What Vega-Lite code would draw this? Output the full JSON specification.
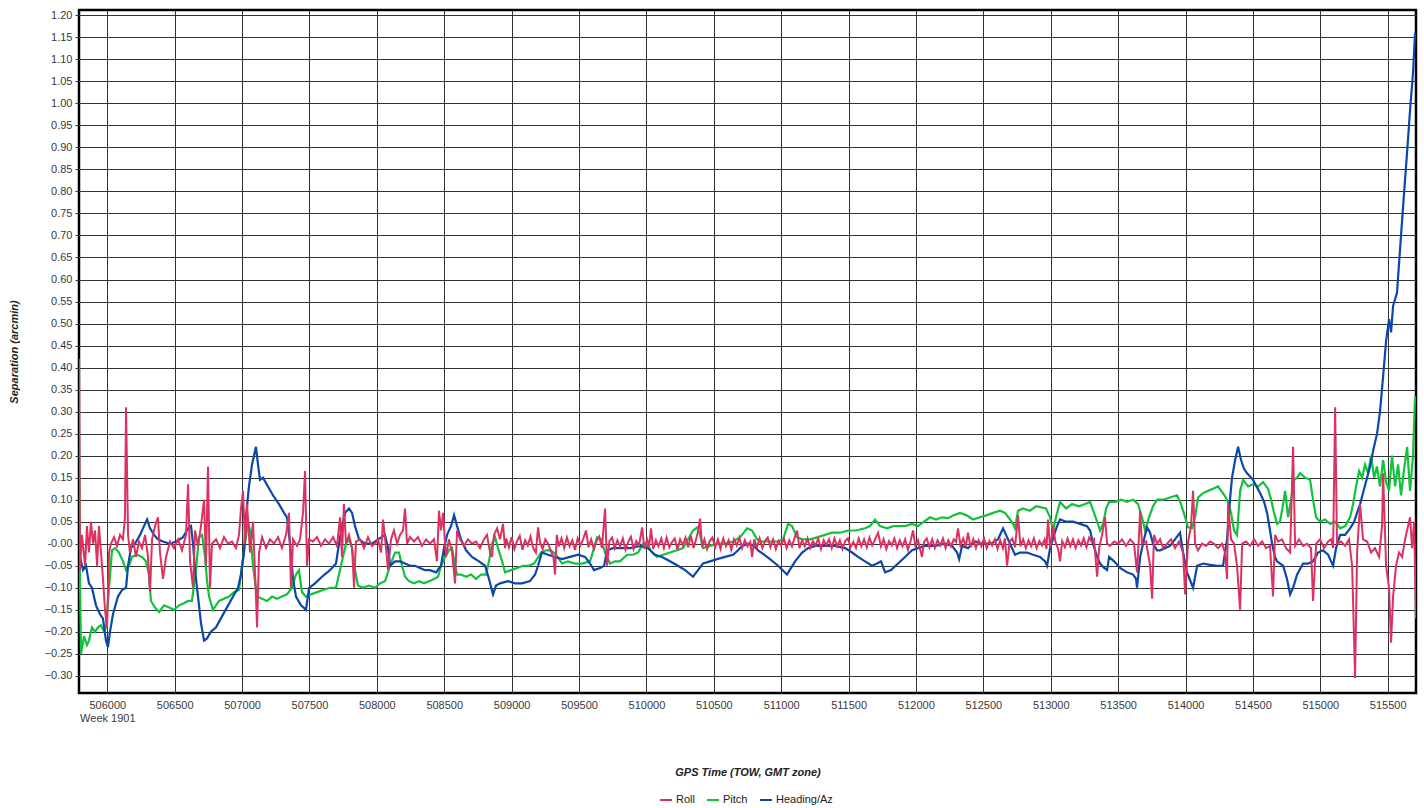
{
"$schema":"https://vega.github.io/schema/vega-lite/v6.json",
"width":1337,"height":683,
"autosize":{"type":"none"},
"padding":{"left":79,"top":10,"right":8,"bottom":115},
"background":"white",
"config":{
"font":"Liberation Sans",
"view":{"stroke":"#000","strokeWidth":2.5},
"axis":{"labelFont":"Liberation Sans","titleFont":"Liberation Sans","labelFontSize":11,"labelColor":"#3a3a3a","titleFontSize":11,"titleFontStyle":"italic","titleFontWeight":"bold","titleColor":"#222","domain":false,"gridColor":"#333","gridWidth":1,"gridOpacity":1},
"legend":{"labelFont":"Liberation Sans","labelFontSize":11,"labelColor":"#222"}
},
"datasets":{
"pitch":[
{"t":505790,"v":0.24},{"t":505797,"v":-0.08},{"t":505805,"v":-0.25},{"t":505827,"v":-0.21},{"t":505849,"v":-0.23},{"t":505864,"v":-0.22},{"t":505886,"v":-0.19},{"t":505909,"v":-0.2},{"t":505931,"v":-0.19},{"t":505953,"v":-0.185},{"t":505976,"v":-0.2},{"t":505990,"v":-0.19},{"t":506013,"v":-0.1},{"t":506035,"v":-0.015},{"t":506057,"v":-0.01},{"t":506087,"v":-0.02},{"t":506116,"v":-0.04},{"t":506139,"v":-0.06},{"t":506161,"v":-0.05},{"t":506183,"v":-0.03},{"t":506220,"v":-0.025},{"t":506257,"v":-0.03},{"t":506287,"v":-0.04},{"t":506309,"v":-0.07},{"t":506324,"v":-0.13},{"t":506354,"v":-0.145},{"t":506384,"v":-0.155},{"t":506421,"v":-0.14},{"t":506458,"v":-0.145},{"t":506495,"v":-0.15},{"t":506532,"v":-0.14},{"t":506569,"v":-0.135},{"t":506599,"v":-0.13},{"t":506628,"v":-0.13},{"t":506658,"v":-0.06},{"t":506680,"v":0.015},{"t":506703,"v":0.02},{"t":506725,"v":-0.03},{"t":506740,"v":-0.085},{"t":506755,"v":-0.12},{"t":506784,"v":-0.15},{"t":506829,"v":-0.13},{"t":506866,"v":-0.125},{"t":506903,"v":-0.12},{"t":506940,"v":-0.11},{"t":506977,"v":-0.105},{"t":506999,"v":-0.05},{"t":507022,"v":0.0},{"t":507044,"v":0.05},{"t":507059,"v":0.03},{"t":507081,"v":-0.05},{"t":507111,"v":-0.12},{"t":507148,"v":-0.125},{"t":507185,"v":-0.13},{"t":507222,"v":-0.12},{"t":507259,"v":-0.125},{"t":507296,"v":-0.12},{"t":507333,"v":-0.115},{"t":507370,"v":-0.1},{"t":507400,"v":-0.07},{"t":507422,"v":-0.06},{"t":507445,"v":-0.11},{"t":507474,"v":-0.12},{"t":507511,"v":-0.115},{"t":507556,"v":-0.11},{"t":507600,"v":-0.105},{"t":507652,"v":-0.1},{"t":507697,"v":-0.1},{"t":507719,"v":-0.07},{"t":507741,"v":-0.04},{"t":507771,"v":0.0},{"t":507793,"v":0.01},{"t":507816,"v":-0.01},{"t":507838,"v":-0.06},{"t":507860,"v":-0.095},{"t":507897,"v":-0.1},{"t":507942,"v":-0.095},{"t":507986,"v":-0.1},{"t":508023,"v":-0.09},{"t":508061,"v":-0.085},{"t":508098,"v":-0.05},{"t":508135,"v":-0.02},{"t":508164,"v":-0.02},{"t":508187,"v":-0.05},{"t":508209,"v":-0.075},{"t":508239,"v":-0.085},{"t":508276,"v":-0.09},{"t":508313,"v":-0.085},{"t":508350,"v":-0.09},{"t":508387,"v":-0.085},{"t":508424,"v":-0.08},{"t":508454,"v":-0.075},{"t":508476,"v":-0.05},{"t":508506,"v":-0.03},{"t":508535,"v":-0.015},{"t":508558,"v":-0.01},{"t":508580,"v":-0.05},{"t":508595,"v":-0.07},{"t":508624,"v":-0.07},{"t":508662,"v":-0.075},{"t":508699,"v":-0.07},{"t":508736,"v":-0.08},{"t":508773,"v":-0.07},{"t":508810,"v":-0.07},{"t":508832,"v":-0.04},{"t":508854,"v":0.0},{"t":508877,"v":0.015},{"t":508899,"v":-0.01},{"t":508929,"v":-0.04},{"t":508951,"v":-0.065},{"t":508995,"v":-0.06},{"t":509040,"v":-0.055},{"t":509084,"v":-0.05},{"t":509129,"v":-0.05},{"t":509166,"v":-0.045},{"t":509188,"v":-0.035},{"t":509218,"v":-0.02},{"t":509255,"v":-0.015},{"t":509292,"v":-0.015},{"t":509329,"v":-0.025},{"t":509374,"v":-0.045},{"t":509418,"v":-0.04},{"t":509470,"v":-0.045},{"t":509522,"v":-0.045},{"t":509582,"v":-0.04},{"t":509611,"v":-0.01},{"t":509634,"v":0.015},{"t":509663,"v":0.01},{"t":509693,"v":-0.02},{"t":509730,"v":-0.045},{"t":509767,"v":-0.04},{"t":509804,"v":-0.04},{"t":509856,"v":-0.025},{"t":509901,"v":-0.025},{"t":509938,"v":-0.02},{"t":509975,"v":0.0},{"t":510012,"v":-0.005},{"t":510042,"v":-0.02},{"t":510079,"v":-0.03},{"t":510123,"v":-0.025},{"t":510175,"v":-0.02},{"t":510227,"v":-0.015},{"t":510272,"v":-0.01},{"t":510309,"v":0.01},{"t":510346,"v":0.03},{"t":510376,"v":0.037},{"t":510398,"v":0.02},{"t":510420,"v":-0.01},{"t":510472,"v":-0.005},{"t":510524,"v":0.0},{"t":510583,"v":0.0},{"t":510643,"v":0.005},{"t":510695,"v":0.015},{"t":510747,"v":0.035},{"t":510784,"v":0.03},{"t":510821,"v":0.01},{"t":510858,"v":0.005},{"t":510917,"v":0.005},{"t":510969,"v":0.005},{"t":511014,"v":0.01},{"t":511051,"v":0.045},{"t":511080,"v":0.04},{"t":511118,"v":0.015},{"t":511155,"v":0.01},{"t":511214,"v":0.01},{"t":511273,"v":0.015},{"t":511325,"v":0.02},{"t":511377,"v":0.025},{"t":511437,"v":0.025},{"t":511496,"v":0.03},{"t":511555,"v":0.03},{"t":511622,"v":0.035},{"t":511659,"v":0.04},{"t":511696,"v":0.055},{"t":511733,"v":0.04},{"t":511785,"v":0.035},{"t":511830,"v":0.04},{"t":511867,"v":0.04},{"t":511919,"v":0.04},{"t":511971,"v":0.045},{"t":512015,"v":0.04},{"t":512060,"v":0.05},{"t":512104,"v":0.06},{"t":512149,"v":0.055},{"t":512193,"v":0.06},{"t":512238,"v":0.058},{"t":512283,"v":0.065},{"t":512327,"v":0.07},{"t":512372,"v":0.065},{"t":512423,"v":0.055},{"t":512475,"v":0.06},{"t":512527,"v":0.065},{"t":512572,"v":0.07},{"t":512624,"v":0.075},{"t":512661,"v":0.07},{"t":512698,"v":0.055},{"t":512720,"v":0.045},{"t":512735,"v":0.035},{"t":512757,"v":0.075},{"t":512794,"v":0.08},{"t":512846,"v":0.075},{"t":512891,"v":0.085},{"t":512921,"v":0.083},{"t":512965,"v":0.08},{"t":512995,"v":0.06},{"t":513017,"v":0.03},{"t":513039,"v":0.06},{"t":513069,"v":0.095},{"t":513114,"v":0.08},{"t":513158,"v":0.09},{"t":513210,"v":0.085},{"t":513255,"v":0.09},{"t":513292,"v":0.095},{"t":513321,"v":0.07},{"t":513344,"v":0.05},{"t":513366,"v":0.03},{"t":513388,"v":0.045},{"t":513411,"v":0.08},{"t":513433,"v":0.095},{"t":513477,"v":0.095},{"t":513522,"v":0.1},{"t":513566,"v":0.095},{"t":513611,"v":0.1},{"t":513648,"v":0.09},{"t":513677,"v":0.06},{"t":513700,"v":0.03},{"t":513729,"v":0.06},{"t":513759,"v":0.085},{"t":513789,"v":0.1},{"t":513834,"v":0.1},{"t":513885,"v":0.105},{"t":513937,"v":0.11},{"t":513967,"v":0.09},{"t":513997,"v":0.06},{"t":514019,"v":0.037},{"t":514048,"v":0.035},{"t":514071,"v":0.06},{"t":514093,"v":0.105},{"t":514130,"v":0.115},{"t":514167,"v":0.12},{"t":514204,"v":0.125},{"t":514241,"v":0.13},{"t":514278,"v":0.115},{"t":514308,"v":0.1},{"t":514338,"v":0.07},{"t":514360,"v":0.03},{"t":514382,"v":0.02},{"t":514405,"v":0.12},{"t":514427,"v":0.145},{"t":514464,"v":0.13},{"t":514501,"v":0.135},{"t":514538,"v":0.13},{"t":514575,"v":0.14},{"t":514612,"v":0.125},{"t":514635,"v":0.1},{"t":514657,"v":0.07},{"t":514679,"v":0.045},{"t":514701,"v":0.05},{"t":514724,"v":0.09},{"t":514739,"v":0.12},{"t":514761,"v":0.06},{"t":514783,"v":0.1},{"t":514806,"v":0.145},{"t":514828,"v":0.15},{"t":514850,"v":0.16},{"t":514887,"v":0.15},{"t":514924,"v":0.145},{"t":514946,"v":0.1},{"t":514969,"v":0.06},{"t":514998,"v":0.05},{"t":515035,"v":0.055},{"t":515073,"v":0.045},{"t":515110,"v":0.05},{"t":515147,"v":0.035},{"t":515184,"v":0.04},{"t":515221,"v":0.06},{"t":515243,"v":0.09},{"t":515265,"v":0.13},{"t":515288,"v":0.165},{"t":515310,"v":0.15},{"t":515332,"v":0.18},{"t":515354,"v":0.16},{"t":515377,"v":0.2},{"t":515399,"v":0.15},{"t":515421,"v":0.175},{"t":515443,"v":0.13},{"t":515466,"v":0.19},{"t":515488,"v":0.14},{"t":515510,"v":0.12},{"t":515532,"v":0.2},{"t":515555,"v":0.13},{"t":515577,"v":0.18},{"t":515599,"v":0.11},{"t":515622,"v":0.17},{"t":515644,"v":0.22},{"t":515666,"v":0.12},{"t":515688,"v":0.2},{"t":515703,"v":0.335}
],
"heading":[
{"t":505790,"v":-0.02},{"t":505820,"v":-0.06},{"t":505842,"v":-0.05},{"t":505864,"v":-0.09},{"t":505886,"v":-0.1},{"t":505916,"v":-0.14},{"t":505946,"v":-0.16},{"t":505968,"v":-0.17},{"t":505990,"v":-0.22},{"t":506005,"v":-0.235},{"t":506020,"v":-0.2},{"t":506042,"v":-0.16},{"t":506079,"v":-0.12},{"t":506109,"v":-0.105},{"t":506139,"v":-0.1},{"t":506154,"v":-0.05},{"t":506176,"v":-0.01},{"t":506206,"v":0.0},{"t":506243,"v":0.02},{"t":506272,"v":0.04},{"t":506295,"v":0.055},{"t":506317,"v":0.035},{"t":506347,"v":0.02},{"t":506376,"v":0.01},{"t":506413,"v":0.005},{"t":506465,"v":0.0},{"t":506510,"v":0.005},{"t":506562,"v":0.015},{"t":506599,"v":0.035},{"t":506621,"v":0.04},{"t":506636,"v":0.0},{"t":506651,"v":-0.06},{"t":506673,"v":-0.12},{"t":506695,"v":-0.18},{"t":506718,"v":-0.22},{"t":506740,"v":-0.215},{"t":506769,"v":-0.2},{"t":506807,"v":-0.19},{"t":506851,"v":-0.165},{"t":506896,"v":-0.14},{"t":506933,"v":-0.12},{"t":506970,"v":-0.1},{"t":506992,"v":-0.07},{"t":507014,"v":-0.02},{"t":507029,"v":0.06},{"t":507051,"v":0.13},{"t":507074,"v":0.18},{"t":507103,"v":0.22},{"t":507118,"v":0.18},{"t":507133,"v":0.145},{"t":507155,"v":0.15},{"t":507192,"v":0.13},{"t":507229,"v":0.11},{"t":507274,"v":0.09},{"t":507311,"v":0.07},{"t":507333,"v":0.06},{"t":507356,"v":0.0},{"t":507378,"v":-0.08},{"t":507400,"v":-0.12},{"t":507437,"v":-0.14},{"t":507474,"v":-0.15},{"t":507497,"v":-0.1},{"t":507541,"v":-0.09},{"t":507593,"v":-0.075},{"t":507652,"v":-0.06},{"t":507697,"v":-0.045},{"t":507719,"v":0.0},{"t":507741,"v":0.04},{"t":507764,"v":0.07},{"t":507793,"v":0.08},{"t":507816,"v":0.07},{"t":507838,"v":0.04},{"t":507868,"v":0.01},{"t":507912,"v":0.0},{"t":507964,"v":0.0},{"t":508009,"v":0.01},{"t":508061,"v":0.02},{"t":508083,"v":-0.01},{"t":508098,"v":-0.05},{"t":508135,"v":-0.04},{"t":508172,"v":-0.04},{"t":508209,"v":-0.045},{"t":508246,"v":-0.05},{"t":508283,"v":-0.05},{"t":508320,"v":-0.055},{"t":508357,"v":-0.06},{"t":508394,"v":-0.06},{"t":508439,"v":-0.065},{"t":508476,"v":-0.05},{"t":508498,"v":-0.01},{"t":508521,"v":0.02},{"t":508550,"v":0.04},{"t":508573,"v":0.065},{"t":508595,"v":0.04},{"t":508624,"v":0.01},{"t":508662,"v":-0.015},{"t":508706,"v":-0.03},{"t":508758,"v":-0.04},{"t":508803,"v":-0.05},{"t":508832,"v":-0.08},{"t":508862,"v":-0.115},{"t":508884,"v":-0.095},{"t":508914,"v":-0.09},{"t":508973,"v":-0.085},{"t":509025,"v":-0.09},{"t":509077,"v":-0.09},{"t":509136,"v":-0.085},{"t":509174,"v":-0.07},{"t":509196,"v":-0.05},{"t":509225,"v":-0.02},{"t":509270,"v":-0.025},{"t":509322,"v":-0.03},{"t":509374,"v":-0.035},{"t":509433,"v":-0.03},{"t":509493,"v":-0.025},{"t":509545,"v":-0.03},{"t":509582,"v":-0.045},{"t":509611,"v":-0.06},{"t":509656,"v":-0.055},{"t":509686,"v":-0.05},{"t":509708,"v":-0.015},{"t":509752,"v":-0.01},{"t":509804,"v":-0.01},{"t":509878,"v":-0.01},{"t":509953,"v":-0.005},{"t":510012,"v":-0.01},{"t":510064,"v":-0.025},{"t":510116,"v":-0.03},{"t":510175,"v":-0.04},{"t":510234,"v":-0.05},{"t":510287,"v":-0.06},{"t":510346,"v":-0.075},{"t":510383,"v":-0.06},{"t":510420,"v":-0.045},{"t":510472,"v":-0.04},{"t":510524,"v":-0.035},{"t":510583,"v":-0.03},{"t":510643,"v":-0.025},{"t":510680,"v":-0.015},{"t":510709,"v":-0.005},{"t":510754,"v":0.0},{"t":510799,"v":-0.005},{"t":510828,"v":-0.015},{"t":510873,"v":-0.025},{"t":510917,"v":-0.035},{"t":510977,"v":-0.05},{"t":511043,"v":-0.07},{"t":511073,"v":-0.055},{"t":511103,"v":-0.04},{"t":511155,"v":-0.02},{"t":511199,"v":-0.01},{"t":511251,"v":-0.005},{"t":511325,"v":-0.005},{"t":511400,"v":-0.005},{"t":511474,"v":-0.01},{"t":511526,"v":-0.02},{"t":511570,"v":-0.03},{"t":511622,"v":-0.04},{"t":511674,"v":-0.05},{"t":511711,"v":-0.045},{"t":511741,"v":-0.04},{"t":511771,"v":-0.065},{"t":511815,"v":-0.06},{"t":511867,"v":-0.045},{"t":511919,"v":-0.03},{"t":511971,"v":-0.015},{"t":512015,"v":-0.01},{"t":512067,"v":-0.005},{"t":512142,"v":-0.005},{"t":512216,"v":0.0},{"t":512268,"v":-0.005},{"t":512305,"v":-0.02},{"t":512320,"v":-0.035},{"t":512342,"v":-0.005},{"t":512386,"v":-0.01},{"t":512438,"v":0.005},{"t":512498,"v":0.0},{"t":512557,"v":0.0},{"t":512609,"v":0.01},{"t":512646,"v":0.035},{"t":512668,"v":0.02},{"t":512698,"v":0.0},{"t":512735,"v":-0.025},{"t":512772,"v":-0.02},{"t":512824,"v":-0.02},{"t":512869,"v":-0.025},{"t":512921,"v":-0.03},{"t":512958,"v":-0.04},{"t":512973,"v":-0.05},{"t":512995,"v":-0.01},{"t":513025,"v":0.02},{"t":513047,"v":0.04},{"t":513069,"v":0.055},{"t":513114,"v":0.05},{"t":513165,"v":0.05},{"t":513217,"v":0.045},{"t":513269,"v":0.04},{"t":513292,"v":0.03},{"t":513314,"v":0.0},{"t":513344,"v":-0.03},{"t":513366,"v":-0.045},{"t":513396,"v":-0.055},{"t":513418,"v":-0.06},{"t":513433,"v":-0.03},{"t":513470,"v":-0.04},{"t":513514,"v":-0.055},{"t":513566,"v":-0.065},{"t":513611,"v":-0.07},{"t":513633,"v":-0.08},{"t":513640,"v":-0.1},{"t":513663,"v":-0.03},{"t":513692,"v":0.01},{"t":513715,"v":0.037},{"t":513737,"v":0.025},{"t":513759,"v":0.0},{"t":513789,"v":-0.015},{"t":513811,"v":-0.015},{"t":513848,"v":-0.01},{"t":513885,"v":-0.005},{"t":513922,"v":0.01},{"t":513959,"v":0.025},{"t":513982,"v":-0.02},{"t":514011,"v":-0.065},{"t":514056,"v":-0.1},{"t":514086,"v":-0.05},{"t":514130,"v":-0.045},{"t":514182,"v":-0.048},{"t":514234,"v":-0.05},{"t":514278,"v":-0.05},{"t":514308,"v":0.01},{"t":514330,"v":0.1},{"t":514345,"v":0.15},{"t":514368,"v":0.19},{"t":514390,"v":0.22},{"t":514412,"v":0.19},{"t":514434,"v":0.17},{"t":514457,"v":0.16},{"t":514501,"v":0.145},{"t":514553,"v":0.115},{"t":514583,"v":0.095},{"t":514605,"v":0.07},{"t":514627,"v":0.03},{"t":514642,"v":0.0},{"t":514664,"v":-0.03},{"t":514679,"v":-0.04},{"t":514724,"v":-0.05},{"t":514753,"v":-0.08},{"t":514776,"v":-0.115},{"t":514798,"v":-0.1},{"t":514828,"v":-0.07},{"t":514872,"v":-0.045},{"t":514909,"v":-0.045},{"t":514946,"v":-0.04},{"t":514983,"v":-0.02},{"t":515020,"v":-0.015},{"t":515058,"v":-0.025},{"t":515080,"v":-0.04},{"t":515095,"v":-0.05},{"t":515117,"v":-0.01},{"t":515147,"v":0.02},{"t":515184,"v":0.02},{"t":515221,"v":0.035},{"t":515251,"v":0.05},{"t":515273,"v":0.07},{"t":515295,"v":0.09},{"t":515317,"v":0.115},{"t":515347,"v":0.15},{"t":515369,"v":0.175},{"t":515391,"v":0.21},{"t":515421,"v":0.25},{"t":515443,"v":0.3},{"t":515466,"v":0.38},{"t":515488,"v":0.46},{"t":515510,"v":0.51},{"t":515525,"v":0.48},{"t":515540,"v":0.54},{"t":515569,"v":0.57},{"t":515592,"v":0.67},{"t":515614,"v":0.765},{"t":515644,"v":0.89},{"t":515666,"v":0.985},{"t":515688,"v":1.07},{"t":515703,"v":1.16}
],
"roll":[
{"t":505790,"v":0.42},{"t":505797,"v":-0.06},{"t":505812,"v":0.02},{"t":505835,"v":-0.05},{"t":505849,"v":0.04},{"t":505864,"v":-0.02},{"t":505879,"v":0.05},{"t":505894,"v":0.0},{"t":505909,"v":0.03},{"t":505924,"v":-0.05},{"t":505938,"v":0.04},{"t":505953,"v":-0.02},{"t":505968,"v":-0.08},{"t":505983,"v":-0.15},{"t":505998,"v":-0.19},{"t":506013,"v":-0.02},{"t":506027,"v":0.0},{"t":506050,"v":0.015},{"t":506072,"v":-0.005},{"t":506094,"v":0.02},{"t":506116,"v":0.01},{"t":506131,"v":0.06},{"t":506139,"v":0.31},{"t":506154,"v":0.02},{"t":506168,"v":-0.02},{"t":506191,"v":0.01},{"t":506213,"v":-0.03},{"t":506235,"v":0.005},{"t":506257,"v":-0.01},{"t":506280,"v":0.02},{"t":506302,"v":-0.03},{"t":506317,"v":-0.11},{"t":506332,"v":0.01},{"t":506354,"v":0.04},{"t":506376,"v":0.06},{"t":506391,"v":-0.02},{"t":506413,"v":-0.08},{"t":506436,"v":-0.03},{"t":506465,"v":0.005},{"t":506495,"v":-0.01},{"t":506525,"v":0.01},{"t":506554,"v":-0.015},{"t":506584,"v":0.02},{"t":506599,"v":0.135},{"t":506614,"v":-0.04},{"t":506636,"v":-0.1},{"t":506651,"v":0.03},{"t":506673,"v":-0.005},{"t":506695,"v":0.04},{"t":506718,"v":0.1},{"t":506732,"v":-0.05},{"t":506747,"v":0.175},{"t":506762,"v":-0.1},{"t":506777,"v":0.0},{"t":506807,"v":0.01},{"t":506836,"v":-0.01},{"t":506866,"v":0.015},{"t":506896,"v":0.0},{"t":506925,"v":0.005},{"t":506955,"v":-0.01},{"t":506977,"v":0.02},{"t":506992,"v":0.08},{"t":507007,"v":0.12},{"t":507022,"v":0.0},{"t":507037,"v":0.09},{"t":507059,"v":-0.02},{"t":507081,"v":0.05},{"t":507103,"v":-0.12},{"t":507111,"v":-0.19},{"t":507126,"v":-0.02},{"t":507148,"v":0.015},{"t":507178,"v":-0.01},{"t":507207,"v":0.01},{"t":507237,"v":0.0},{"t":507267,"v":0.015},{"t":507296,"v":-0.01},{"t":507326,"v":0.02},{"t":507348,"v":0.07},{"t":507363,"v":-0.1},{"t":507378,"v":0.01},{"t":507408,"v":-0.005},{"t":507430,"v":0.01},{"t":507452,"v":0.07},{"t":507467,"v":0.165},{"t":507482,"v":-0.05},{"t":507497,"v":0.01},{"t":507526,"v":0.005},{"t":507556,"v":0.015},{"t":507586,"v":-0.005},{"t":507615,"v":0.01},{"t":507645,"v":0.0},{"t":507675,"v":0.015},{"t":507704,"v":-0.005},{"t":507727,"v":0.06},{"t":507741,"v":-0.03},{"t":507756,"v":0.09},{"t":507771,"v":0.0},{"t":507793,"v":0.02},{"t":507816,"v":-0.01},{"t":507831,"v":-0.1},{"t":507845,"v":0.005},{"t":507875,"v":0.01},{"t":507905,"v":-0.01},{"t":507934,"v":0.015},{"t":507964,"v":-0.005},{"t":507986,"v":0.0},{"t":508009,"v":0.01},{"t":508031,"v":-0.02},{"t":508046,"v":0.055},{"t":508068,"v":-0.01},{"t":508083,"v":-0.06},{"t":508105,"v":0.01},{"t":508127,"v":0.03},{"t":508150,"v":0.0},{"t":508172,"v":0.02},{"t":508194,"v":0.03},{"t":508209,"v":0.08},{"t":508224,"v":0.0},{"t":508246,"v":0.015},{"t":508276,"v":0.005},{"t":508305,"v":0.015},{"t":508335,"v":-0.005},{"t":508365,"v":0.01},{"t":508394,"v":0.0},{"t":508424,"v":0.01},{"t":508446,"v":-0.04},{"t":508461,"v":0.075},{"t":508476,"v":0.03},{"t":508491,"v":0.07},{"t":508513,"v":-0.03},{"t":508535,"v":0.01},{"t":508558,"v":-0.02},{"t":508580,"v":-0.09},{"t":508595,"v":0.03},{"t":508617,"v":0.01},{"t":508647,"v":-0.005},{"t":508676,"v":0.01},{"t":508706,"v":0.0},{"t":508736,"v":0.005},{"t":508765,"v":-0.01},{"t":508795,"v":0.01},{"t":508817,"v":0.02},{"t":508840,"v":-0.02},{"t":508854,"v":-0.03},{"t":508869,"v":0.02},{"t":508892,"v":0.035},{"t":508914,"v":0.01},{"t":508936,"v":0.045},{"t":508951,"v":-0.01},
{"t":508960,"v":0.012},{"t":508980,"v":-0.008},{"t":509000,"v":0.015},{"t":509020,"v":-0.012},{"t":509040,"v":0.006},{"t":509060,"v":0.018},{"t":509080,"v":-0.014},{"t":509100,"v":0.008},{"t":509120,"v":-0.004},{"t":509140,"v":0.016},{"t":509160,"v":-0.01},{"t":509180,"v":-0.02},{"t":509196,"v":0.037},{"t":509210,"v":0.004},{"t":509230,"v":-0.012},{"t":509250,"v":0.01},{"t":509270,"v":0.0},{"t":509290,"v":-0.016},{"t":509310,"v":-0.03},{"t":509322,"v":-0.07},{"t":509335,"v":0.02},{"t":509350,"v":-0.006},{"t":509370,"v":0.012},{"t":509390,"v":-0.01},{"t":509410,"v":0.014},{"t":509430,"v":-0.006},{"t":509450,"v":0.008},{"t":509470,"v":-0.014},{"t":509490,"v":0.012},{"t":509510,"v":-0.004},{"t":509530,"v":0.01},{"t":509552,"v":0.03},{"t":509570,"v":-0.008},{"t":509590,"v":0.01},{"t":509610,"v":-0.012},{"t":509630,"v":0.006},{"t":509650,"v":0.016},{"t":509670,"v":-0.01},{"t":509693,"v":0.08},{"t":509708,"v":-0.05},{"t":509725,"v":0.006},{"t":509745,"v":0.014},{"t":509765,"v":-0.01},{"t":509785,"v":0.008},{"t":509805,"v":-0.006},{"t":509825,"v":0.012},{"t":509845,"v":-0.014},{"t":509865,"v":0.004},{"t":509885,"v":0.016},{"t":509905,"v":-0.012},{"t":509925,"v":0.006},{"t":509945,"v":-0.004},{"t":509968,"v":0.037},{"t":509985,"v":-0.012},{"t":510005,"v":0.01},{"t":510020,"v":-0.006},{"t":510034,"v":0.035},{"t":510050,"v":-0.012},{"t":510070,"v":0.008},{"t":510090,"v":-0.006},{"t":510110,"v":0.012},{"t":510130,"v":-0.01},{"t":510150,"v":0.014},{"t":510170,"v":-0.008},{"t":510190,"v":0.004},{"t":510210,"v":0.012},{"t":510230,"v":-0.014},{"t":510250,"v":0.01},{"t":510270,"v":-0.004},{"t":510290,"v":0.014},{"t":510310,"v":-0.008},{"t":510330,"v":0.018},{"t":510350,"v":-0.01},{"t":510370,"v":0.012},{"t":510385,"v":0.03},{"t":510398,"v":0.057},{"t":510413,"v":-0.008},{"t":510430,"v":0.01},{"t":510450,"v":-0.012},{"t":510470,"v":0.006},{"t":510490,"v":0.014},{"t":510510,"v":-0.008},{"t":510530,"v":0.01},{"t":510550,"v":-0.012},{"t":510570,"v":0.012},{"t":510590,"v":-0.006},{"t":510610,"v":0.008},{"t":510630,"v":-0.014},{"t":510650,"v":0.01},{"t":510670,"v":-0.004},{"t":510690,"v":0.014},{"t":510710,"v":-0.01},{"t":510730,"v":0.008},{"t":510750,"v":-0.006},{"t":510770,"v":0.004},{"t":510784,"v":-0.03},{"t":510800,"v":0.01},{"t":510820,"v":-0.008},{"t":510840,"v":0.012},{"t":510860,"v":-0.01},{"t":510880,"v":0.006},{"t":510900,"v":0.014},{"t":510920,"v":-0.008},{"t":510940,"v":0.01},{"t":510960,"v":-0.012},{"t":510980,"v":0.006},{"t":511000,"v":-0.004},{"t":511020,"v":0.012},{"t":511040,"v":-0.01},{"t":511060,"v":0.008},{"t":511080,"v":-0.006},{"t":511100,"v":0.014},{"t":511118,"v":0.03},{"t":511135,"v":-0.01},{"t":511155,"v":0.008},{"t":511175,"v":-0.006},{"t":511195,"v":0.012},{"t":511215,"v":-0.01},{"t":511235,"v":0.006},{"t":511255,"v":-0.004},{"t":511275,"v":0.012},{"t":511295,"v":-0.012},{"t":511315,"v":0.008},{"t":511335,"v":-0.004},{"t":511355,"v":0.01},{"t":511375,"v":-0.01},{"t":511395,"v":0.012},{"t":511415,"v":-0.006},{"t":511435,"v":0.008},{"t":511455,"v":-0.012},{"t":511475,"v":0.006},{"t":511495,"v":0.012},{"t":511515,"v":-0.008},{"t":511535,"v":0.004},{"t":511555,"v":-0.01},{"t":511575,"v":0.012},{"t":511595,"v":-0.006},{"t":511615,"v":0.01},{"t":511635,"v":-0.008},{"t":511655,"v":0.014},{"t":511675,"v":-0.004},{"t":511695,"v":0.008},{"t":511719,"v":0.025},{"t":511740,"v":-0.006},{"t":511760,"v":0.01},{"t":511780,"v":-0.012},{"t":511800,"v":0.006},{"t":511820,"v":-0.004},{"t":511840,"v":0.012},{"t":511860,"v":-0.01},{"t":511880,"v":0.008},{"t":511900,"v":-0.006},{"t":511920,"v":0.01},{"t":511940,"v":-0.014},{"t":511960,"v":0.006},{"t":511978,"v":0.03},{"t":511995,"v":-0.004},{"t":512015,"v":0.008},{"t":512030,"v":-0.012},{"t":512045,"v":-0.03},{"t":512060,"v":0.004},{"t":512080,"v":0.012},{"t":512100,"v":-0.008},{"t":512120,"v":0.01},{"t":512140,"v":-0.01},{"t":512160,"v":0.008},{"t":512180,"v":-0.004},{"t":512200,"v":0.012},{"t":512220,"v":-0.01},{"t":512240,"v":0.008},{"t":512260,"v":-0.006},{"t":512280,"v":0.01},{"t":512297,"v":0.004},{"t":512312,"v":0.035},{"t":512330,"v":-0.004},{"t":512350,"v":0.012},{"t":512370,"v":-0.006},{"t":512386,"v":0.025},{"t":512405,"v":-0.008},{"t":512425,"v":0.01},{"t":512445,"v":-0.01},{"t":512465,"v":0.008},{"t":512485,"v":-0.006},{"t":512505,"v":0.012},{"t":512525,"v":-0.01},{"t":512545,"v":0.006},{"t":512565,"v":-0.004},{"t":512585,"v":0.01},{"t":512605,"v":-0.012},{"t":512625,"v":0.008},{"t":512645,"v":-0.01},{"t":512660,"v":0.012},{"t":512676,"v":-0.05},{"t":512695,"v":0.004},{"t":512715,"v":0.012},{"t":512735,"v":-0.008},{"t":512757,"v":0.065},{"t":512775,"v":-0.006},{"t":512795,"v":0.01},{"t":512815,"v":-0.01},{"t":512835,"v":0.008},{"t":512855,"v":-0.006},{"t":512875,"v":0.012},{"t":512895,"v":-0.01},{"t":512915,"v":0.006},{"t":512935,"v":-0.004},{"t":512955,"v":0.01},{"t":512968,"v":-0.012},{"t":512980,"v":0.055},{"t":512995,"v":-0.01},{"t":513005,"v":0.01},{"t":513017,"v":0.04},{"t":513035,"v":0.004},{"t":513055,"v":-0.012},{"t":513069,"v":-0.04},{"t":513085,"v":0.006},{"t":513105,"v":-0.008},{"t":513125,"v":0.012},{"t":513145,"v":-0.006},{"t":513165,"v":0.01},{"t":513185,"v":-0.01},{"t":513205,"v":0.008},{"t":513225,"v":-0.004},{"t":513245,"v":0.012},{"t":513265,"v":-0.008},{"t":513285,"v":0.014},{"t":513305,"v":0.004},{"t":513321,"v":0.01},
{"t":513344,"v":-0.075},{"t":513359,"v":-0.01},{"t":513381,"v":0.02},{"t":513403,"v":0.06},{"t":513418,"v":0.0},{"t":513440,"v":-0.005},{"t":513470,"v":0.005},{"t":513500,"v":0.0},{"t":513529,"v":0.01},{"t":513559,"v":-0.005},{"t":513589,"v":0.01},{"t":513618,"v":0.0},{"t":513640,"v":-0.065},{"t":513655,"v":0.02},{"t":513663,"v":0.075},{"t":513677,"v":0.0},{"t":513707,"v":0.005},{"t":513737,"v":-0.05},{"t":513752,"v":-0.125},{"t":513766,"v":0.02},{"t":513789,"v":0.0},{"t":513811,"v":0.01},{"t":513834,"v":-0.01},{"t":513863,"v":0.0},{"t":513893,"v":0.01},{"t":513922,"v":-0.01},{"t":513952,"v":0.005},{"t":513982,"v":-0.02},{"t":513997,"v":-0.115},{"t":514019,"v":0.005},{"t":514041,"v":0.04},{"t":514056,"v":0.12},{"t":514071,"v":0.0},{"t":514093,"v":-0.015},{"t":514123,"v":0.0},{"t":514152,"v":-0.005},{"t":514182,"v":0.005},{"t":514212,"v":0.0},{"t":514241,"v":-0.01},{"t":514271,"v":0.0},{"t":514293,"v":-0.02},{"t":514308,"v":-0.08},{"t":514316,"v":0.09},{"t":514338,"v":0.01},{"t":514360,"v":0.0},{"t":514382,"v":-0.05},{"t":514405,"v":-0.15},{"t":514420,"v":0.0},{"t":514449,"v":0.005},{"t":514479,"v":-0.005},{"t":514509,"v":0.01},{"t":514538,"v":-0.005},{"t":514568,"v":0.005},{"t":514598,"v":-0.01},{"t":514627,"v":-0.005},{"t":514649,"v":-0.12},{"t":514664,"v":0.02},{"t":514687,"v":0.005},{"t":514716,"v":0.01},{"t":514746,"v":-0.01},{"t":514776,"v":-0.02},{"t":514798,"v":0.22},{"t":514813,"v":-0.005},{"t":514842,"v":0.01},{"t":514872,"v":-0.005},{"t":514902,"v":0.0},{"t":514931,"v":-0.01},{"t":514946,"v":-0.13},{"t":514969,"v":0.0},{"t":514998,"v":0.01},{"t":515028,"v":-0.01},{"t":515058,"v":0.005},{"t":515080,"v":0.01},{"t":515095,"v":-0.01},{"t":515110,"v":0.31},{"t":515124,"v":0.0},{"t":515154,"v":0.005},{"t":515184,"v":-0.005},{"t":515213,"v":0.01},{"t":515236,"v":-0.05},{"t":515258,"v":-0.305},{"t":515273,"v":-0.02},{"t":515295,"v":0.09},{"t":515317,"v":0.01},{"t":515347,"v":0.005},{"t":515377,"v":-0.02},{"t":515406,"v":-0.01},{"t":515436,"v":-0.03},{"t":515458,"v":0.04},{"t":515466,"v":0.16},{"t":515488,"v":-0.05},{"t":515510,"v":-0.1},{"t":515525,"v":-0.225},{"t":515540,"v":-0.12},{"t":515562,"v":-0.05},{"t":515584,"v":-0.02},{"t":515607,"v":-0.03},{"t":515629,"v":0.01},{"t":515651,"v":0.04},{"t":515666,"v":0.06},{"t":515681,"v":-0.01},{"t":515696,"v":0.05},{"t":515710,"v":-0.17}
]
},
"encoding":{
"x":{"field":"t","type":"quantitative","title":"GPS Time (TOW, GMT zone)",
"scale":{"domain":[505790,515710],"nice":false,"zero":false},
"axis":{"values":[506000,506500,507000,507500,508000,508500,509000,509500,510000,510500,511000,511500,512000,512500,513000,513500,514000,514500,515000,515500],
"format":"d","labelExpr":"datum.value == 506000 ? ['506000','Week 1901'] : datum.label","labelLineHeight":13,"labelPadding":6,"ticks":false,"grid":true,"titleY":79,"titleBaseline":"middle"}},
"y":{"field":"v","type":"quantitative","title":"Separation (arcmin)",
"scale":{"domain":[-0.339,1.212],"nice":false,"zero":false},
"axis":{"values":[-0.3,-0.25,-0.2,-0.15,-0.1,-0.05,0,0.05,0.1,0.15,0.2,0.25,0.3,0.35,0.4,0.45,0.5,0.55,0.6,0.65,0.7,0.75,0.8,0.85,0.9,0.95,1,1.05,1.1,1.15,1.2],
"labelExpr":"datum.value == 0 ? '-0.00' : format(datum.value, '.2f')","tickSize":4,"tickColor":"#333","labelPadding":3,"grid":true,"titleX":-65,"titleBaseline":"middle"}}
},
"layer":[
{"data":{"name":"pitch"},"mark":{"type":"line","strokeWidth":2.2,"clip":true},"encoding":{"color":{"datum":"Pitch","type":"nominal","scale":{"domain":["Roll","Pitch","Heading/Az"],"range":["#dc3262","#12c23c","#0b48ac"]},"legend":{"title":null,"orient":"none","legendX":580,"legendY":783,"direction":"horizontal","symbolType":"stroke","symbolStrokeWidth":2,"symbolSize":144,"columnPadding":8,"labelOffset":3}}}},
{"data":{"name":"heading"},"mark":{"type":"line","strokeWidth":2.2,"clip":true},"encoding":{"color":{"datum":"Heading/Az","type":"nominal"}}},
{"data":{"name":"roll"},"mark":{"type":"line","strokeWidth":2,"clip":true},"encoding":{"color":{"datum":"Roll","type":"nominal"}}}
]
}
